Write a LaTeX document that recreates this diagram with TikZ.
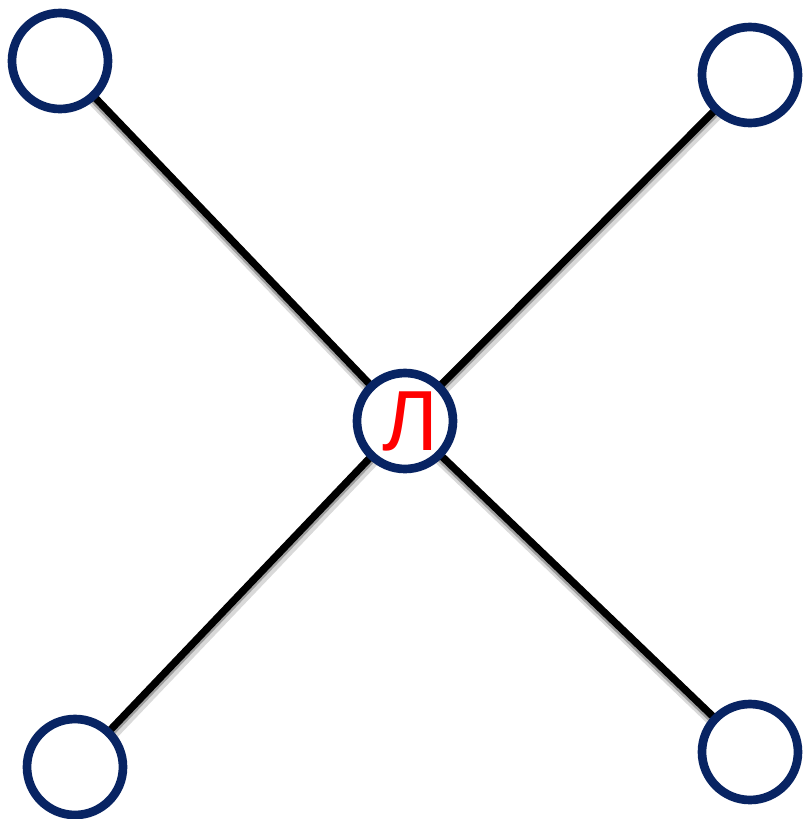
\documentclass[tikz,border=0pt]{standalone}
\usepackage{fontspec}
\newfontfamily\cyrfont{Liberation Sans}
\definecolor{ringblue}{RGB}{8,36,99}
\definecolor{letterred}{RGB}{255,0,0}
\tikzset{
    ring/.style={circle,draw=ringblue,line width=6.5pt,fill=white,minimum size=72pt,inner sep=0pt},
    edge/.style={line width=5.5pt},
    edgeshadow/.style={line width=8pt,black!50,opacity=0.3},
    edgeshade/.style={line width=6pt,black!60,opacity=0.5}
}
\begin{document}
\begin{tikzpicture}[x=0.75pt,y=-0.75pt]
    \useasboundingbox (0,0) rectangle (808,819);
    \coordinate (C) at (405,421);
    \coordinate (TL) at (60,61);
    \coordinate (TR) at (750,75);
    \coordinate (BL) at (75,767);
    \coordinate (BR) at (750,752);
    \foreach \p in {TL,TR,BL,BR} {
        \draw[edgeshadow] ([shift={(1,6)}]C)--([shift={(1,6)}]\p);
        \draw[edgeshade] ([shift={(0,3)}]C)--([shift={(0,3)}]\p);
        \draw[edge] (C)--(\p);
    }
    \node[ring] (nC) at (C) {\cyrfont\fontsize{64pt}{64pt}\selectfont\color{letterred}\hspace*{8pt}\raisebox{-1pt}{Л}};
    \node[ring] (nTL) at (TL) {};
    \node[ring] (nTR) at (TR) {};
    \node[ring] (nBL) at (BL) {};
    \node[ring] (nBR) at (BR) {};
\end{tikzpicture}
\end{document}
